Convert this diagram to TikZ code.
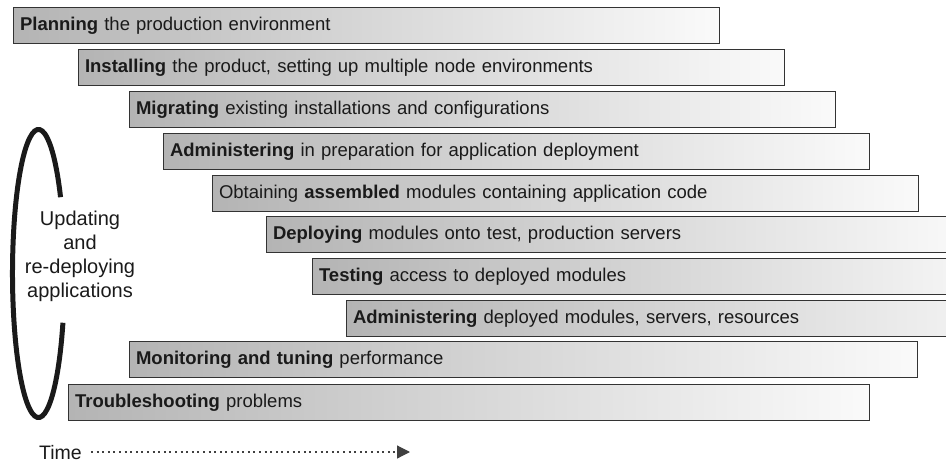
\documentclass[tikz,border=0pt]{standalone}
\usepackage{fontspec}
\setmainfont{Liberation Sans}
\usetikzlibrary{arrows.meta}

\definecolor{barline}{HTML}{333333}
\definecolor{barleft}{HTML}{B4B4B4}
\definecolor{barright}{HTML}{FAFAFA}
\definecolor{ink}{HTML}{1A1A1A}

\tikzset{
  bar/.style={draw=barline, line width=1.1pt, left color=barleft, right color=barright,
    anchor=north west, minimum height=36pt, inner xsep=6.5pt, inner ysep=0pt,
    align=left, text width=#1, text=ink,
    font=\fontsize{18.5}{22}\selectfont},
  loopline/.style={line width=5pt, draw=ink},
  timeline/.style={draw=black!75, line width=1.2pt, dash pattern=on 2pt off 3.6pt,
    -{Triangle[length=13pt, width=13pt]}},
}

\begin{document}
\begin{tikzpicture}[x=1pt, y=-1pt]
  \useasboundingbox (0,0) rectangle (946,463);
  \clip (0,0) rectangle (946,463);

  % staircase of activities (x = left edge, y = top edge)
  \node[bar=693pt] (plan)    at (13,7)   {\textbf{Planning} the production environment};
  \node[bar=693pt] (install) at (78,49)  {\textbf{Installing} the product, setting up multiple node environments};
  \node[bar=693pt] (migrate) at (129,91) {\textbf{Migrating} existing installations and configurations};
  \node[bar=693pt] (admin)   at (163,133){\textbf{Administering} in preparation for application deployment};
  \node[bar=693pt] (obtain)  at (212,175){Obtaining \textbf{assembled} modules containing application code};
  \node[bar=693pt] (deploy)  at (266,216){\textbf{Deploying} modules onto test, production servers};
  \node[bar=693pt] (test)    at (312,258){\textbf{Testing} access to deployed modules};
  \node[bar=693pt] (adminr)  at (346,300){\textbf{Administering} deployed modules, servers, resources};
  \node[bar=775pt] (monitor) at (129,341){\textbf{Monitoring and tuning} performance};
  \node[bar=788pt] (trouble) at (68,384) {\textbf{Troubleshooting} problems};

  % open loop around the update cycle
  \draw[loopline] (62.93,322.75) arc[start angle=20, end angle=328, x radius=26, y radius=144];
  \node[align=center, text=ink, font=\fontsize{20}{24}\selectfont] (update) at (80,256)
    {Updating\\and\\re-deploying\\applications};

  % time axis
  \node[anchor=west, inner sep=0pt, text=ink, font=\fontsize{19.5}{22}\selectfont] (time) at (39,453) {Time};
  \coordinate (tend) at (410,452);
  \draw[timeline, shorten <=9pt] (time.east |- tend) -- (tend);
\end{tikzpicture}
\end{document}
